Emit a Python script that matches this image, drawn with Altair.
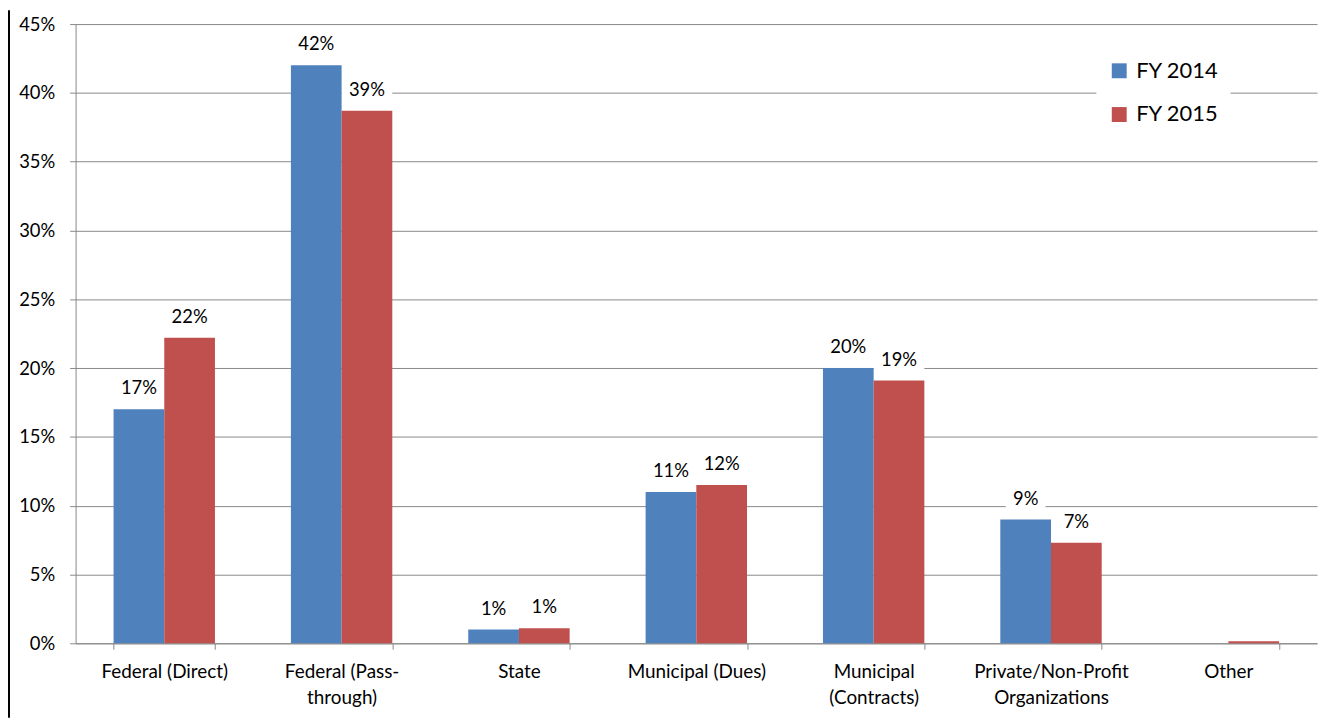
import altair as alt
import pandas as pd

categories = [
    "Federal (Direct)",
    "Federal (Pass-\nthrough)",
    "State",
    "Municipal (Dues)",
    "Municipal\n(Contracts)",
    "Private/Non-Profit\nOrganizations",
    "Other",
]
series = ["FY 2014", "FY 2015"]
fy2014 = [17, 42, 1, 11, 20, 9, 0]
fy2015 = [22.2, 38.7, 1.1, 11.5, 19.1, 7.3, 0.15]
y_ticks = [0, 5, 10, 15, 20, 25, 30, 35, 40, 45]
colors = ["#4F81BD", "#C0504D"]

rows = []
for i, c in enumerate(categories):
    rows.append({"category": c, "series": series[0], "value": fy2014[i]})
    rows.append({"category": c, "series": series[1], "value": fy2015[i]})
df = pd.DataFrame(rows)

FONT = "Lato"
GRAY = "#888888"

x_enc = alt.X(
    "category:N",
    sort=categories,
    scale=alt.Scale(domain=categories, paddingInner=0.4283, paddingOuter=0.2141),
    axis=alt.Axis(
        title=None,
        labelAngle=0,
        tickBand="extent",
        tickSize=6,
        labelPadding=13,
        labelFontSize=19,
        labelFont=FONT,
        labelColor="black",
        labelLineHeight=27,
        labelExpr="split(datum.label, '\\n')",
        domainColor=GRAY,
        tickColor=GRAY,
        grid=False,
    ),
)
xo_enc = alt.XOffset(
    "series:N", sort=series, scale=alt.Scale(domain=series, paddingInner=0, paddingOuter=0)
)
y_enc = alt.Y(
    "value:Q",
    scale=alt.Scale(domain=[0, 45], nice=False),
    axis=alt.Axis(
        title=None,
        values=y_ticks,
        labelExpr="datum.value + '%'",
        tickSize=6,
        labelPadding=15,
        labelFontSize=18.5,
        labelFont=FONT,
        labelColor="black",
        grid=True,
        gridColor=GRAY,
        domainColor=GRAY,
        tickColor=GRAY,
    ),
)

base = alt.Chart(df)

labeled = base.transform_filter("datum.category != 'Other'").transform_calculate(
    label="round(datum.value) + '%'"
)

boxes = labeled.transform_calculate(
    w="length(datum.label) > 2 ? 51 : 40"
).transform_calculate(
    sz="datum.w * datum.w", k="28 / datum.w"
).transform_calculate(
    shp="'M-1,-' + datum.k + 'L1,-' + datum.k + 'L1,' + datum.k + 'L-1,' + datum.k + 'Z'"
).mark_point(filled=True, color="white", opacity=1, strokeWidth=0, yOffset=-21).encode(
    x=x_enc,
    xOffset=xo_enc,
    y=y_enc,
    shape=alt.Shape("shp:N", scale=None, legend=None),
    size=alt.Size("sz:Q", scale=None, legend=None),
)

bars = base.mark_bar().encode(
    x=x_enc,
    xOffset=xo_enc,
    y=y_enc,
    color=alt.Color(
        "series:N",
        scale=alt.Scale(domain=series, range=colors),
        legend=alt.Legend(
            title=None,
            orient="none",
            legendX=1027,
            legendY=24,
            fillColor="white",
            padding=12,
            symbolType="square",
            symbolSize=225,
            symbolStrokeWidth=0,
            labelFontSize=22,
            labelFont=FONT,
            labelColor="black",
            labelOffset=6,
            rowPadding=22,
        ),
    ),
)

texts = labeled.mark_text(
    dy=-21, fontSize=18.5, font=FONT, color="black", baseline="middle"
).encode(x=x_enc, xOffset=xo_enc, y=y_enc, text="label:N")

border = alt.Chart(pd.DataFrame({"a": [0]})).mark_rule(color="black", strokeWidth=2).encode(
    x=alt.value(-67), y=alt.value(-14), y2=alt.value(698)
)

chart = (
    alt.layer(boxes, bars, texts, border)
    .properties(
        width=1249,
        height=623,
        autosize=alt.AutoSizeParams(type="none"),
        padding={"left": 68, "top": 14, "right": 4, "bottom": 75},
    )
    .configure(background="white")
    .configure_view(stroke=None)
)

chart.save("out.html", embed_options={"renderer": "svg", "actions": False})
